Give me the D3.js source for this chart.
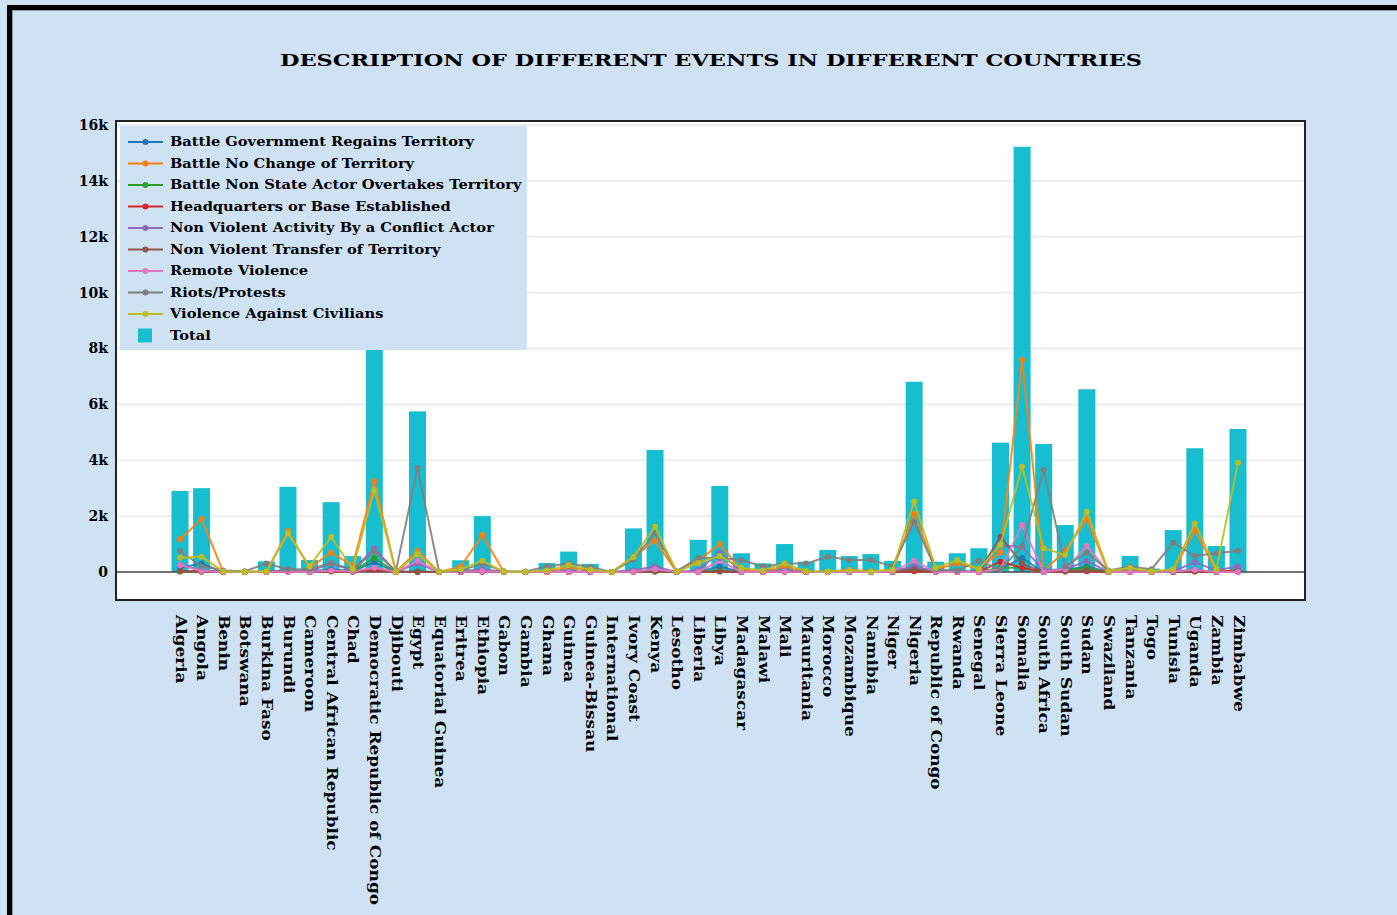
<!DOCTYPE html>
<html>
<head>
<meta charset="utf-8">
<script src="https://cdn.jsdelivr.net/npm/d3@7"></script>
<style>
  html, body { margin: 0; padding: 0; background: #cfe2f3; }
  svg { display: block; }
  text { font-family: "DejaVu Serif", serif; font-weight: bold; fill: #000; }
</style>
</head>
<body>
<svg id="chart" width="1397" height="915"></svg>
<script>
const countries = ["Algeria","Angola","Benin","Botswana","Burkina Faso","Burundi","Cameroon","Central African Republic","Chad","Democratic Republic of Congo","Djibouti","Egypt","Equatorial Guinea","Eritrea","Ethiopia","Gabon","Gambia","Ghana","Guinea","Guinea-Bissau","International","Ivory Coast","Kenya","Lesotho","Liberia","Libya","Madagascar","Malawi","Mali","Mauritania","Morocco","Mozambique","Namibia","Niger","Nigeria","Republic of Congo","Rwanda","Senegal","Sierra Leone","Somalia","South Africa","South Sudan","Sudan","Swaziland","Tanzania","Togo","Tunisia","Uganda","Zambia","Zimbabwe"];

const seriesNames = ["Battle Government Regains Territory","Battle No Change of Territory","Battle Non State Actor Overtakes Territory","Headquarters or Base Established","Non Violent Activity By a Conflict Actor","Non Violent Transfer of Territory","Remote Violence","Riots/Protests","Violence Against Civilians"];

const total = [2900,3000,60,30,380,3050,430,2500,570,9800,60,5750,20,420,2000,40,30,320,730,290,10,1560,4370,40,1150,3080,670,310,1000,370,790,570,640,400,6810,370,670,850,4630,15220,4580,1680,6540,60,570,120,1500,4430,930,5120];

const battleGovRegains = [150,300,0,0,10,60,20,100,40,350,0,20,0,10,80,0,0,0,10,0,0,30,60,0,20,200,0,0,60,0,0,10,0,20,200,20,30,10,100,500,0,80,200,0,10,0,10,80,0,10];
const battleNoChange = [1170,1900,0,0,20,1470,150,690,230,3250,10,750,0,190,1320,0,0,30,150,50,0,540,1120,0,400,1000,80,0,200,20,10,80,30,60,2080,100,300,120,700,7590,30,760,1900,0,50,10,30,1500,20,50];
const battleNonStateOvertakes = [20,30,0,0,0,30,0,40,20,500,0,10,0,0,20,0,0,0,0,0,0,10,20,0,10,50,0,0,30,0,0,0,0,0,40,0,0,0,150,150,0,60,150,0,0,0,0,30,0,0];
const hqEstablished = [30,20,0,0,0,10,0,20,10,80,0,10,0,0,10,0,0,0,0,0,0,0,20,0,0,20,0,0,10,0,0,0,0,0,30,0,0,0,370,150,0,20,30,0,0,0,0,20,0,50];
const nonViolentActivity = [250,60,10,0,10,60,30,300,60,850,0,300,0,20,100,0,0,10,30,10,0,60,200,0,60,700,20,10,40,10,10,20,10,20,200,10,30,20,950,900,60,100,400,0,20,0,30,350,60,200];
const nonViolentTransfer = [30,10,0,0,0,20,0,40,10,150,0,0,0,0,10,0,0,0,0,0,0,10,20,0,0,30,0,0,20,0,0,0,0,0,100,0,0,0,1265,300,0,30,60,0,0,0,0,30,0,20];
const remoteViolence = [250,40,0,0,0,20,0,50,20,150,0,400,0,0,30,0,0,0,0,0,0,10,100,0,0,400,0,0,20,0,0,0,0,10,400,0,0,0,100,1680,0,100,930,0,0,0,20,80,0,0];
const riotsProtests = [750,200,50,30,300,100,100,330,80,730,40,3710,10,50,300,30,20,200,300,180,0,450,1400,30,500,500,430,200,300,300,550,430,430,200,1800,100,50,400,100,910,3650,200,700,50,200,100,1050,570,670,760];
const violenceCivilians = [510,550,20,10,20,1385,200,1265,100,2935,10,640,5,100,400,5,10,50,250,80,0,540,1620,10,320,570,150,50,300,30,20,60,20,80,2520,150,430,100,970,3770,850,610,2160,30,150,30,100,1740,100,3910];

const seriesValues = [battleGovRegains,battleNoChange,battleNonStateOvertakes,hqEstablished,nonViolentActivity,nonViolentTransfer,remoteViolence,riotsProtests,violenceCivilians];
const yTicks = [0,2000,4000,6000,8000,10000,12000,14000,16000];
const yTickLabels = ["0","2k","4k","6k","8k","10k","12k","14k","16k"];
const titleText = "DESCRIPTION OF DIFFERENT EVENTS IN DIFFERENT COUNTRIES";

const colors = d3.schemeCategory10;
const svg = d3.select("#chart");
const W = 1397, H = 915;

function stretch(sel, f) {
  sel.each(function() {
    const L = this.getComputedTextLength();
    d3.select(this).attr("textLength", L * f).attr("lengthAdjust", "spacingAndGlyphs");
  });
}

// outer frame
svg.append("rect").attr("x",0).attr("y",0).attr("width",W).attr("height",H).attr("fill","#cfe2f3");
svg.append("rect").attr("x",9.5).attr("y",7.5).attr("width",W+20).attr("height",H+20)
  .attr("fill","none").attr("stroke","#000").attr("stroke-width",5);
svg.append("rect").attr("x",12.5).attr("y",10.5).attr("width",W+20).attr("height",H+20)
  .attr("fill","none").attr("stroke","#8a9aa8").attr("stroke-width",1);

// title
svg.append("text").attr("x",711).attr("y",66).attr("text-anchor","middle")
  .attr("font-size",17).attr("textLength",862).attr("lengthAdjust","spacingAndGlyphs")
  .text(titleText);

const plot = {left:116, right:1305, top:121, bottom:600};
const x = d3.scalePoint().domain(countries).range([180,1238]);
const y = d3.scaleLinear().domain([0,16000]).range([572,125]);
const barW = 17;

// plot background
svg.append("rect").attr("x",plot.left).attr("y",plot.top)
  .attr("width",plot.right-plot.left).attr("height",plot.bottom-plot.top).attr("fill","#fff");

// grid
svg.append("g").selectAll("line").data(yTicks.filter(d=>d!==0)).join("line")
  .attr("x1",plot.left).attr("x2",plot.right)
  .attr("y1",d=>y(d)).attr("y2",d=>y(d))
  .attr("stroke","#ececec").attr("stroke-width",2);

// bars
svg.append("g").selectAll("rect").data(countries).join("rect")
  .attr("x",d=>x(d)-barW/2).attr("width",barW)
  .attr("y",(d,i)=>y(total[i])).attr("height",(d,i)=>y(0)-y(total[i]))
  .attr("fill",colors[9]);

// zero line
svg.append("line").attr("x1",plot.left).attr("x2",plot.right)
  .attr("y1",y(0)).attr("y2",y(0)).attr("stroke","#444").attr("stroke-width",1.5);

// lines
const line = d3.line().x((d,i)=>x(countries[i])).y(d=>y(d));
seriesValues.forEach((vals,si)=>{
  const g = svg.append("g");
  g.append("path").datum(vals).attr("d",line).attr("fill","none")
    .attr("stroke",colors[si]).attr("stroke-width",2).attr("stroke-opacity",0.9);
  g.selectAll("circle").data(vals).join("circle")
    .attr("cx",(d,i)=>x(countries[i])).attr("cy",d=>y(d)).attr("r",3)
    .attr("fill",colors[si]);
});

// plot border
svg.append("rect").attr("x",plot.left).attr("y",plot.top)
  .attr("width",plot.right-plot.left).attr("height",plot.bottom-plot.top)
  .attr("fill","none").attr("stroke","#222").attr("stroke-width",2);

// y axis labels
const yAxis = d3.axisLeft(y).tickValues(yTicks).tickFormat((d,i)=>yTickLabels[i]).tickSize(0).tickPadding(0);
const yg = svg.append("g").attr("transform","translate(108,0)").call(yAxis);
yg.select(".domain").remove();
yg.selectAll("text").attr("font-size",14).attr("font-family","DejaVu Serif").attr("font-weight","bold").attr("fill","#000");

// x axis labels
const xAxis = d3.axisBottom(x).tickSize(0).tickPadding(0);
const xg = svg.append("g").attr("transform","translate(0,615)").call(xAxis);
xg.select(".domain").remove();
const xt = xg.selectAll("text").attr("font-size",14).attr("font-family","DejaVu Serif").attr("font-weight","bold").attr("fill","#000")
  .attr("text-anchor","start").attr("dy","0.35em").attr("y",0).attr("x",0)
  .attr("transform","rotate(90)");
stretch(xt, 1.21);

// legend
const lg = svg.append("g");
lg.append("rect").attr("x",120).attr("y",126).attr("width",407).attr("height",224).attr("fill","#cfe2f3");
const legendItems = seriesNames.concat(["Total"]);
legendItems.forEach((name,i)=>{
  const ly = 142 + i*21.5;
  if (i < 9) {
    lg.append("line").attr("x1",128).attr("x2",163).attr("y1",ly).attr("y2",ly)
      .attr("stroke",colors[i]).attr("stroke-width",2);
    lg.append("circle").attr("cx",145.5).attr("cy",ly).attr("r",3).attr("fill",colors[i]);
  } else {
    lg.append("rect").attr("x",138).attr("y",ly-7).attr("width",14).attr("height",14).attr("fill",colors[9]);
  }
  const t = lg.append("text").attr("x",170).attr("y",ly).attr("dy","0.35em").attr("font-size",12).text(name);
  stretch(t, 1.22);
});
</script>
</body>
</html>
